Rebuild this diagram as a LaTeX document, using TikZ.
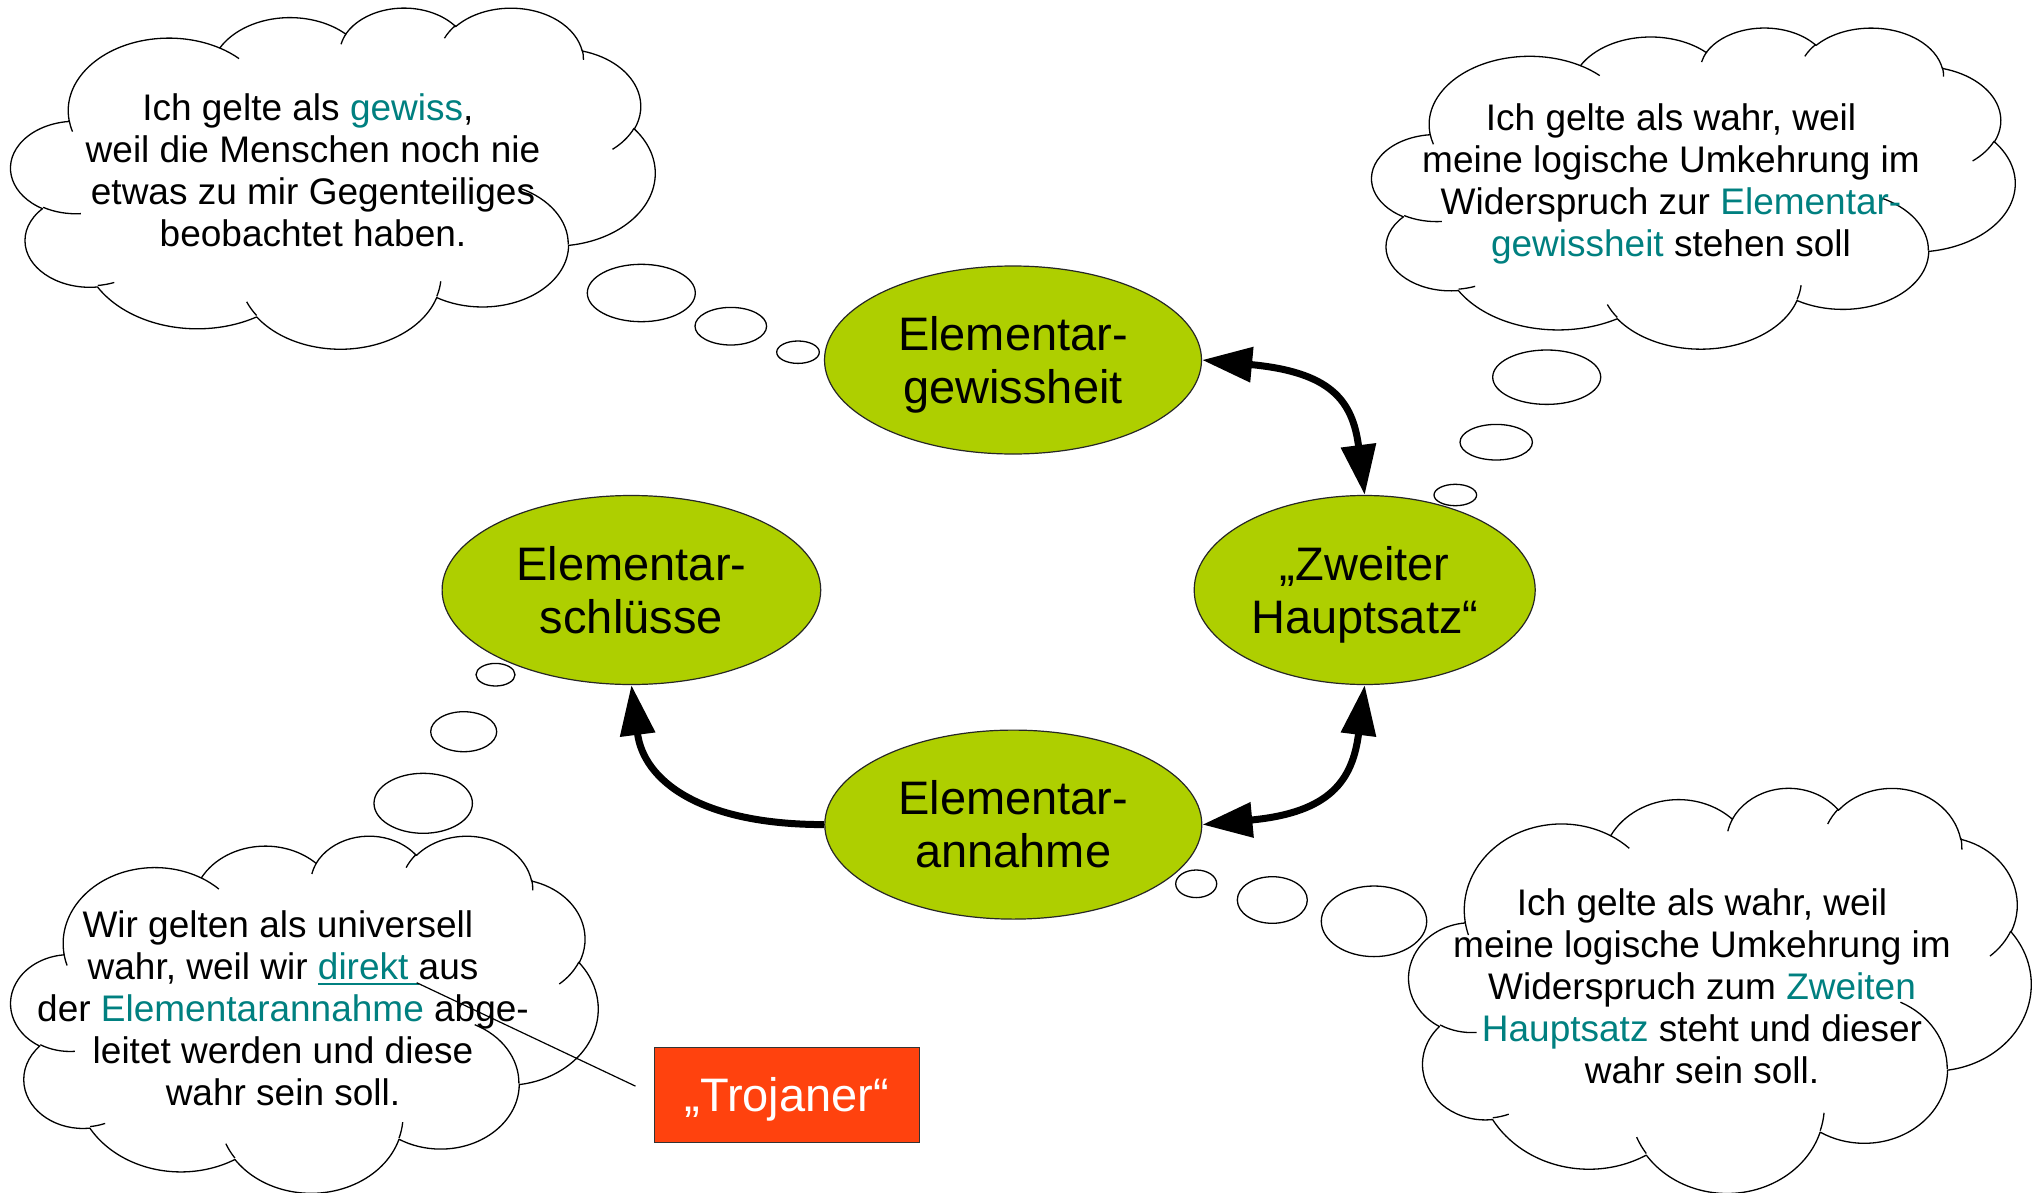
\documentclass[tikz,border=0pt]{standalone}
\usepackage{fontspec}
\setmainfont{Liberation Sans}
\usetikzlibrary{shapes.geometric,arrows.meta}
\definecolor{egreen}{HTML}{AECF00}
\definecolor{trojred}{HTML}{FF420E}
\definecolor{tealtxt}{HTML}{008080}

% one arc of the cloud outline (radii in path units, visual angles in degrees)
\newcommand\cldarc[4]{%
  \pgfmathsetmacro\cldst{#3}%
  \pgfmathsetmacro\cldsw{#4}%
  \pgfmathsetmacro\cldend{\cldst+\cldsw}%
  \pgfmathsetmacro\cldta{atan2(#1*sin(\cldst),#2*cos(\cldst))}%
  \pgfmathsetmacro\cldtb{atan2(#1*sin(\cldend),#2*cos(\cldend))}%
  \pgfmathsetmacro\cldd{\cldtb-\cldta-\cldsw}%
  \pgfmathsetmacro\cldd{\cldd-360*round(\cldd/360)}%
  \pgfmathsetmacro\cldte{\cldta+\cldsw+\cldd}%
  \pgfpatharc{\cldta}{\cldte}{#1pt and #2pt}%
}
\newcommand\cldmove[2]{\pgfpathmoveto{\pgfpoint{#1pt}{#2pt}}}
\newcommand\cloudpath{%
  \pgfsetlinewidth{1.3pt}%
  \pgfsetfillcolor{white}%
  \pgfsetstrokecolor{black}%
  \pgfsetroundjoin
  \cldmove{39.00}{143.70}%
  \cldarc{67.53}{91.90}{-190.4875}{123.7805}%
  \cldarc{53.33}{72.67}{-144.1024}{89.9452}%
  \cldarc{43.65}{59.45}{-145.8079}{99.7230}%
  \cldarc{48.57}{65.95}{-130.9861}{117.2417}%
  \cldarc{53.33}{72.73}{-78.7089}{109.0269}%
  \cldarc{67.75}{92.20}{-46.2673}{130.2690}%
  \cldarc{57.85}{78.67}{0.6250}{114.0333}%
  \cldarc{67.52}{92.15}{22.4516}{115.1726}%
  \cldarc{77.20}{105.43}{66.2426}{75.7110}%
  \cldarc{43.60}{59.18}{-274.9421}{146.7356}%
  \cldarc{43.45}{59.45}{-246.8285}{152.5189}%
  \pgfpathclose
  \pgfusepath{fill,stroke}%
  \cldmove{46.93}{261.77}\cldarc{43.45}{59.45}{86.7420}{26.4295}%
  \cldmove{69.28}{348.99}\cldarc{43.60}{59.18}{73.6105}{11.4475}%
  \cldmove{164.78}{390.90}\cldarc{67.52}{92.15}{137.6242}{14.0811}%
  \cldmove{288.27}{347.51}\cldarc{67.52}{92.15}{6.4533}{15.9984}%
  \cldmove{341.29}{229.54}\cldarc{57.85}{78.67}{-70.2924}{70.9174}%
  \cldmove{417.98}{153.54}\cldarc{53.33}{72.73}{30.3180}{27.7515}%
  \cldmove{383.24}{54.26}\cldarc{48.57}{65.95}{-13.7443}{14.8589}%
  \cldmove{290.78}{39.52}\cldarc{48.57}{65.95}{-149.1815}{18.1954}%
  \cldmove{221.41}{47.20}\cldarc{43.65}{59.45}{-163.4943}{17.6864}%
  \cldmove{140.00}{51.92}\cldarc{67.53}{91.90}{-66.7070}{12.3194}%
  \cldmove{41.27}{157.89}\cldarc{67.53}{91.90}{157.6544}{11.8582}%
  \pgfusepath{stroke}%
}
\newcommand\cloudat[4]{%
  \begin{scope}[shift={(#1,-#2)},xscale=#3/432,yscale=-#4/432]
    \cloudpath
  \end{scope}}
\newcommand\myul[1]{\setbox0=\hbox{#1}\rlap{\color{tealtxt}\rule[-5.5pt]{\wd0}{1.4pt}}\box0}
\newcommand\tallstrut{\rule{0pt}{44pt}}
\newcommand\deepstrut{\rule[-11pt]{0pt}{1pt}}

\tikzset{
  bigell/.style={ellipse, draw=black!85, line width=1.2pt, fill=egreen,
    inner sep=0pt, align=center, font=\fontsize{47}{53}\selectfont},
  cloudtxt/.style={align=center, inner sep=0pt, anchor=north,
    font=\fontsize{37}{42}\selectfont},
  bubble/.style={draw=black, fill=white, line width=1.3pt},
  arr/.style={line width=7pt, draw=black},
  bigtip/.tip={Triangle[length=50pt,width=34pt]}
}

\begin{document}
\begin{tikzpicture}[x=1pt,y=1pt]
\useasboundingbox (0,0) rectangle (2033,-1193);
\fill[white] (0,0) rectangle (2033,-1193);

% clouds
\cloudat{11}{7}{644}{341}
\cloudat{1372}{27}{643}{321}
\cloudat{11}{835}{587}{357}
\cloudat{1409}{787}{622}{405}

% cloud texts
\node[cloudtxt] (t1) at (313,-93.5)
  {Ich gelte als \textcolor{tealtxt}{gewiss},\hspace*{0.278em}\\weil die Menschen noch nie\\etwas zu mir Gegenteiliges\\beobachtet haben.};
\node[cloudtxt] (t2) at (1671,-103.5)
  {Ich gelte als wahr, weil\\meine logische Umkehrung im\\Widerspruch zur \textcolor{tealtxt}{Elementar-}\\\textcolor{tealtxt}{gewissheit} stehen soll};
\node[cloudtxt] (t3) at (283,-910.2)
  {Wir gelten als universell\hspace*{0.278em}\\wahr, weil wir \myul{\textcolor{tealtxt}{direkt}\ }aus\\der \textcolor{tealtxt}{Elementarannahme} abge-\\leitet werden und diese\\wahr sein soll.};
\node[cloudtxt] (t4) at (1702,-888.5)
  {Ich gelte als wahr, weil\\meine logische Umkehrung im\\Widerspruch zum \textcolor{tealtxt}{Zweiten}\\\textcolor{tealtxt}{Hauptsatz} steht und dieser\\wahr sein soll.};

% main ellipses
\node[bigell, minimum width=377pt, minimum height=188pt] (eg) at (1013,-360) {\tallstrut Elementar-\\gewissheit\deepstrut};
\node[bigell, minimum width=341pt, minimum height=189pt] (zh) at (1364.7,-590) {\tallstrut„Zweiter\\Hauptsatz“\deepstrut};
\node[bigell, minimum width=378.6pt, minimum height=189pt] (es) at (631.4,-590) {\tallstrut Elementar-\\schlüsse\deepstrut};
\node[bigell, minimum width=377pt, minimum height=189pt] (ea) at (1013.3,-824.6) {\tallstrut Elementar-\\annahme\deepstrut};

% thought bubbles
\draw[bubble] (641.3,-293) ellipse [x radius=54, y radius=28.7];
\draw[bubble] (730.8,-326.2) ellipse [x radius=35.8, y radius=18.8];
\draw[bubble] (798,-352.2) ellipse [x radius=21.3, y radius=11.2];
\draw[bubble] (1546.7,-377.2) ellipse [x radius=54, y radius=27.2];
\draw[bubble] (1496.2,-442.2) ellipse [x radius=36.2, y radius=17.8];
\draw[bubble] (1455.3,-495) ellipse [x radius=21.3, y radius=10.7];
\draw[bubble] (495.5,-674.7) ellipse [x radius=19.5, y radius=11.3];
\draw[bubble] (463.7,-731.7) ellipse [x radius=33, y radius=20];
\draw[bubble] (423.2,-803.3) ellipse [x radius=49.2, y radius=30];
\draw[bubble] (1196.2,-883.8) ellipse [x radius=20.5, y radius=13.8];
\draw[bubble] (1272.3,-900) ellipse [x radius=35, y radius=23.3];
\draw[bubble] (1374,-921.3) ellipse [x radius=52.7, y radius=35.3];

% arrows
\draw[arr, bigtip-bigtip] (eg.east) .. controls +(128,-12) and +(-12,95) .. (zh.north);
\draw[arr, bigtip-bigtip] (ea.east) .. controls +(128,12) and +(-12,-95) .. (zh.south);
\draw[arr, -bigtip] (ea.west) .. controls +(-125,0) and +(12,-95) .. (es.south);

% Trojaner callout
\node[draw=black!80, line width=1.2pt, fill=trojred, text=white, minimum width=265pt,
  minimum height=95pt, inner sep=0pt, font=\fontsize{47}{53}\selectfont] (troj) at (786.7,-1094.7) {\tallstrut„Trojaner“};
\coordinate (ulend) at (416.7,-982.7);
\draw[line width=1.2pt, shorten >=20pt] (ulend) -- (troj.west);
\end{tikzpicture}
\end{document}
